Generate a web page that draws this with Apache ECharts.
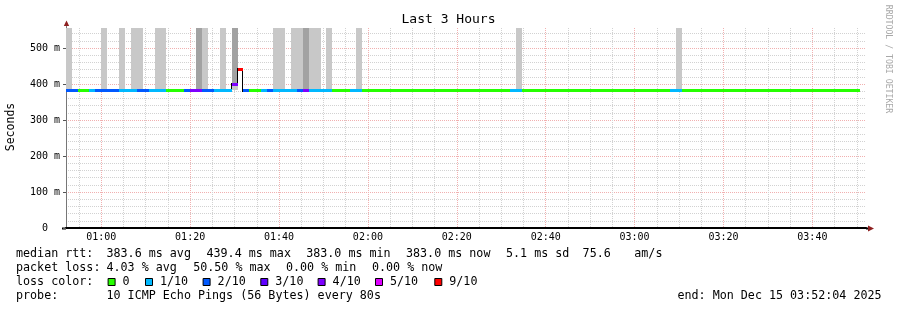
<!DOCTYPE html>
<html><head><meta charset="utf-8">
<script src="https://cdn.jsdelivr.net/npm/echarts@6/dist/echarts.min.js"></script>
<style>html,body{margin:0;padding:0;background:#fff}#c{width:897px;height:310px}</style>
</head><body><div id="c"></div>
<script>
// ---------------- data ----------------
const chartTitle = 'Last 3 Hours';
const yAxisName = 'Seconds';
const viewStart = '00:52:04';
const viewEnd = '03:52:04';
const stepStart = '00:52:00';
const stepSeconds = 80;
const yMax = 555.6;
const minRtt = 383.0;
const xMajorTicks = ['01:00','01:20','01:40','02:00','02:20','02:40','03:00','03:20','03:40'];
const yMajorTicks = [0, 100, 200, 300, 400, 500];

// median rtt per 80 s step (ms)
const median = [
  383,383,383,383,383,383,383,383,383,383,
  383,383,383,383,383,383,383,383,383,383,
  383,383,383,383,383,383,383,383,400,439.4,
  383,383,383,383,383,383,383,383,383,383,
  383,383,383,383,383,383,383,383,383,383,
  383,383,383,383,383,383,383,383,383,383,
  383,383,383,383,383,383,383,383,383,383,
  383,383,383,383,383,383,383,383,383,383,
  383,383,383,383,383,383,383,383,383,383,
  383,383,383,383,383,383,383,383,383,383,
  383,383,383,383,383,383,383,383,383,383,
  383,383,383,383,383,383,383,383,383,383,
  383,383,383,383,383,383,383,383,383,383,
  383,383,383,383
];
// lost pings (of 10) per step
const lossPings = [
  2,2,0,0,1,2,2,2,2,1,
  1,1,2,2,1,1,1,0,0,0,
  2,4,4,2,2,1,1,1,4,9,
  2,0,0,1,2,1,1,1,1,2,
  4,1,1,1,1,0,0,0,1,1,
  0,0,0,0,0,0,0,0,0,0,
  0,0,0,0,0,0,0,0,0,0,
  0,0,0,0,0,1,1,0,0,0,
  0,0,0,0,0,0,0,0,0,0,
  0,0,0,0,0,0,0,0,0,0,
  0,0,1,1,0,0,0,0,0,0,
  0,0,0,0,0,0,0,0,0,0,
  0,0,0,0,0,0,0,0,0,0,
  0,0,0,0
];
// smoke density per step (0 none, 1 light, 2 dense)
const smokeShade = [
  1,0,0,0,0,0,1,0,0,1,
  0,1,1,0,0,1,1,0,0,0,
  0,0,2,1,0,0,1,0,2,0,
  0,0,0,0,0,1,1,0,1,1,
  2,1,1,0,1,0,0,0,0,1,
  0,0,0,0,0,0,0,0,0,0,
  0,0,0,0,0,0,0,0,0,0,
  0,0,0,0,0,0,1,0,0,0,
  0,0,0,0,0,0,0,0,0,0,
  0,0,0,0,0,0,0,0,0,0,
  0,0,0,1,0,0,0,0,0,0,
  0,0,0,0,0,0,0,0,0,0,
  0,0,0,0,0,0,0,0,0,0,
  0,0,0,0
];
const lossLabels = ['0','1/10','2/10','3/10','4/10','5/10','9/10'];
const lossThresholds = [0,1,2,3,4,5,9];
const lossColors = ['#26ff00','#00b8ff','#0059ff','#5e00ff','#7e00ff','#dd00ff','#ff0000'];

const statsRtt = ['median rtt:','383.6 ms avg','439.4 ms max','383.0 ms min','383.0 ms now','5.1 ms sd','75.6','am/s'];
const statsLoss = ['packet loss:','4.03 % avg','50.50 % max','0.00 % min','0.00 % now'];
const probeText = ['probe:','10 ICMP Echo Pings (56 Bytes) every 80s'];
const endText = 'end: Mon Dec 15 03:52:04 2025';
const watermark = 'RRDTOOL / TOBI OETIKER';

// ---------------- build ----------------
const mono = "'DejaVu Sans Mono', monospace";
const smokeLight = '#c8c8c8', smokeDark = '#a2a2a2';
const minorGrid = '#d2d2d2', majorGrid = '#f1b0b0';
function hm(s){ const p = s.split(':').map(Number); return p[0]*60 + p[1] + (p[2]||0)/60; }
function pad(n){ return (n<10?'0':'') + n; }
const xMin = hm(viewStart), xMax = hm(viewEnd);
const t0 = hm(stepStart), stepMin = stepSeconds/60;
const xMajor = xMajorTicks.map(hm);
const xMinor = [];
for (let m = Math.ceil(xMin/5)*5; m <= xMax; m += 5) if (m % 20 !== 0) xMinor.push(m);
const yMinor = [];
for (let v = 20; v < yMax; v += 20) if (v % 100 !== 0) yMinor.push(v);
function lossIdx(l){ let k = 0; lossThresholds.forEach((t,i)=>{ if (l >= t) k = i; }); return k; }
const items = median.map((m,i)=>[t0+i*stepMin, t0+(i+1)*stepMin, m, lossIdx(lossPings[i]), smokeShade[i], i+1<median.length ? median[i+1] : m]);

function renderSmoke(params, api){
  const a = api.value(0), b = api.value(1), med = api.value(2), shade = api.value(4);
  const xa = Math.round(api.coord([a,0])[0]), xb = Math.round(api.coord([b,0])[0]);
  const yTop = Math.round(api.coord([a,yMax])[1]);
  const yLow = Math.round(api.coord([a,minRtt])[1]);
  const yMed = Math.round(api.coord([a,med])[1]);
  const ch = [];
  if (shade > 0){
    ch.push({type:'rect', shape:{x:xa,y:yTop,width:xb-xa,height:yLow-yTop}, style:{fill:smokeLight}});
    if (shade === 2) ch.push({type:'rect', shape:{x:xa,y:yTop,width:xb-xa,height:yMed-yTop}, style:{fill:smokeDark}});
  } else if (med > minRtt){
    ch.push({type:'rect', shape:{x:xa,y:yMed,width:xb-xa,height:yLow-yMed+1}, style:{fill:'#ffffff'}});
  }
  return {type:'group', children:ch};
}
function renderStep(params, api){
  const b = api.value(1), med = api.value(2), nxt = api.value(5);
  if (med === nxt) return {type:'group', children:[]};
  const xb = Math.round(api.coord([b,0])[0]);
  const y1 = api.coord([b,med])[1], y2 = api.coord([b,nxt])[1];
  const top = Math.round(Math.min(y1,y2)-1.5), bot = Math.round(Math.max(y1,y2)+1.5);
  return {type:'rect', shape:{x:xb-1,y:top,width:1,height:bot-top}, style:{fill:'#000'}};
}
function renderMedian(params, api){
  const a = api.value(0), b = api.value(1), med = api.value(2), ci = api.value(3);
  const xa = Math.round(api.coord([a,0])[0]), xb = Math.round(api.coord([b,0])[0]);
  const yc = api.coord([a,med])[1];
  const top = Math.round(yc-1.5);
  return {type:'rect', shape:{x:xa,y:top,width:xb-xa,height:3}, style:{fill:lossColors[ci]}};
}

const graphics = [];
function txt(x,y,t,opt){ graphics.push(Object.assign({type:'text', x:x, y:y, silent:true,
  style:Object.assign({text:t, font:'11.7px '+mono, fill:'#000', textAlign:'left', textVerticalAlign:'middle'}, opt||{})})); }
txt(448.5, 19.5, chartTitle, {font:'13px '+mono, textAlign:'center'});
graphics.push({type:'text', x:11, y:127, rotation:Math.PI/2, silent:true,
  style:{text:yAxisName, font:'11.5px '+mono, fill:'#000', textAlign:'center', textVerticalAlign:'middle'}});
graphics.push({type:'text', x:888, y:59, rotation:-Math.PI/2, silent:true,
  style:{text:watermark, font:'8.2px '+mono, fill:'#a8a8a8', textAlign:'center', textVerticalAlign:'middle'}});
// arrows
graphics.push({type:'line', silent:true, shape:{x1:66.5,y1:28,x2:66.5,y2:24}, style:{stroke:'#777',lineWidth:1}});
graphics.push({type:'polygon', silent:true, shape:{points:[[63.8,26],[69.2,26],[66.5,20.5]]}, style:{fill:'#8e2020'}});
graphics.push({type:'line', silent:true, shape:{x1:62,y1:228.5,x2:66,y2:228.5}, style:{stroke:'#000',lineWidth:2}});
graphics.push({type:'line', silent:true, shape:{x1:866,y1:228.5,x2:869,y2:228.5}, style:{stroke:'#000',lineWidth:2}});
graphics.push({type:'polygon', silent:true, shape:{points:[[868,225.5],[868,231.5],[874,228.5]]}, style:{fill:'#8e2020'}});
// stats
const rttX = [16, 106.5, 206.5, 306.2, 406, 506, 582.6, 634.3];
statsRtt.forEach((t,i)=>txt(rttX[i], 254, t));
const lossX = [16, 106.5, 193.2, 286, 372];
statsLoss.forEach((t,i)=>txt(lossX[i], 268, t));
txt(16, 282, 'loss color:');
const lossLabelX = [122.6, 160, 217.6, 275.3, 332.6, 390, 449.3];
lossLabels.forEach((t,i)=>{
  graphics.push({type:'rect', silent:true, shape:{x:lossLabelX[i]-14.5, y:278.5, width:7, height:7},
    style:{fill:lossColors[i], stroke:'#000', lineWidth:1}});
  txt(lossLabelX[i], 282, t);
});
txt(16, 296, probeText[0]);
txt(106.5, 296, probeText[1]);
txt(677.5, 296, endText);

const chart = echarts.init(document.getElementById('c'), null, {renderer:'canvas'});
chart.setOption({
  animation:false,
  backgroundColor:'#ffffff',
  grid:{left:66, top:28, width:800, height:200, outerBoundsMode:'none'},
  xAxis:[
    {type:'value', min:xMin, max:xMax, position:'bottom',
      axisLine:{show:true, onZero:false, lineStyle:{color:'#000', width:2}},
      axisTick:{show:false, customValues:xMajor},
      axisLabel:{customValues:xMajor, formatter:v=>pad(Math.floor(v/60))+':'+pad(Math.round(v%60)),
        fontFamily:mono, fontSize:10, color:'#000', margin:4},
      splitLine:{show:true, lineStyle:{color:majorGrid, width:1, type:[1,1]}}},
    {type:'value', min:xMin, max:xMax, position:'top',
      axisLine:{show:false}, axisLabel:{show:false},
      axisTick:{show:false, customValues:xMinor},
      splitLine:{show:true, lineStyle:{color:minorGrid, width:1, type:[1,1]}}}
  ],
  yAxis:[
    {type:'value', min:0, max:yMax, position:'left',
      axisLine:{show:true, lineStyle:{color:'#777', width:1}},
      axisTick:{show:true, length:3, customValues:yMajorTicks, lineStyle:{color:'#555'}},
      axisLabel:{customValues:yMajorTicks, formatter:v=>v===0?'0  ':v+' m', fontFamily:mono, fontSize:10, color:'#000', margin:6},
      splitLine:{show:true, lineStyle:{color:majorGrid, width:1, type:[1,1]}}},
    {type:'value', min:0, max:yMax, position:'right',
      axisLine:{show:false}, axisLabel:{show:false},
      axisTick:{show:false, customValues:yMinor},
      splitLine:{show:true, lineStyle:{color:minorGrid, width:1, type:[1,1]}}}
  ],
  series:[
    {type:'custom', xAxisIndex:0, yAxisIndex:0, clip:true, silent:true, data:items, encode:{x:[0,1], y:2}, renderItem:renderSmoke, z:1},
    {type:'custom', xAxisIndex:0, yAxisIndex:0, clip:true, silent:true, data:items, encode:{x:[0,1], y:2}, renderItem:renderStep, z:2},
    {type:'custom', xAxisIndex:0, yAxisIndex:0, clip:true, silent:true, data:items, encode:{x:[0,1], y:2}, renderItem:renderMedian, z:3}
  ],
  graphic:graphics
});
</script></body></html>
